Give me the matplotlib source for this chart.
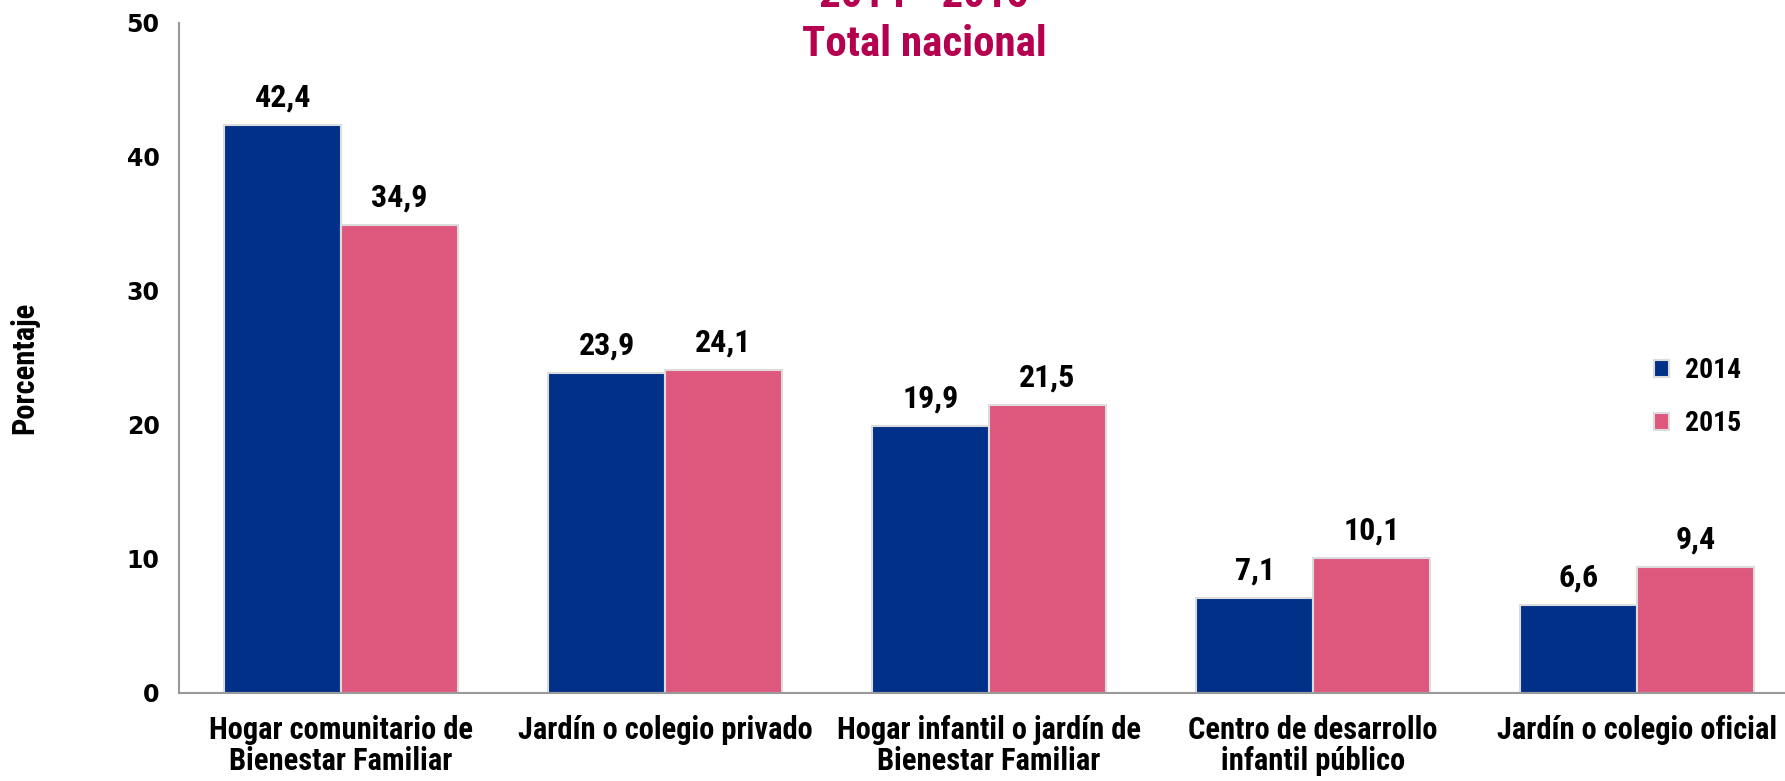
import matplotlib
matplotlib.use("Agg")
import matplotlib.pyplot as plt
from matplotlib import font_manager as fm
import numpy as np

categories = ["Hogar comunitario de\nBienestar Familiar",
              "Jardín o colegio privado",
              "Hogar infantil o jardín de\nBienestar Familiar",
              "Centro de desarrollo\ninfantil público",
              "Jardín o colegio oficial"]
series_names = ["2014", "2015"]
values_2014 = [42.4, 23.9, 19.9, 7.1, 6.6]
values_2015 = [34.9, 24.1, 21.5, 10.1, 9.4]
yticks = [0, 10, 20, 30, 40, 50]

names = {f.name for f in fm.fontManager.ttflist}
cond = "DejaVu Sans"
for cand in ["Liberation Sans Narrow", "Roboto Condensed", "Open Sans Condensed", "Roboto", "Liberation Sans"]:
    if cand in names:
        cond = cand
        break

blue = "#003087"
pink = "#de587e"
title_col = "#b4004e"

fig = plt.figure(figsize=(17.85, 7.81), dpi=100)
ax = fig.add_axes([179 / 1785, 1 - 693 / 781, 1620 / 1785, (693 - 23) / 781])

x = np.arange(len(categories))
w = 0.36
b1 = ax.bar(x - w / 2, values_2014, w, color=blue, edgecolor="#dcdcdc", linewidth=1.5, label=series_names[0])
b2 = ax.bar(x + w / 2, values_2015, w, color=pink, edgecolor="#dcdcdc", linewidth=1.5, label=series_names[1])

for bars, vals in [(b1, values_2014), (b2, values_2015)]:
    for r, v in zip(bars, vals):
        ax.annotate(f"{v:.1f}".replace(".", ","), (r.get_x() + r.get_width() / 2, v),
                    xytext=(0, 9), textcoords="offset points", ha="center", va="bottom",
                    fontsize=23, fontweight="bold", family=cond, color="black")

ax.set_xlim(-0.5, 4.5)
ax.set_ylim(0, 50)
ax.set_yticks(yticks)
ax.set_yticklabels([str(t) for t in yticks], fontsize=17, fontweight="bold", family="DejaVu Sans")
ax.set_xticks(x)
ax.set_xticklabels(categories, fontsize=22, fontweight="bold", family=cond, linespacing=1.05)
ax.tick_params(axis="both", length=0)
ax.tick_params(axis="y", pad=14)
ax.tick_params(axis="x", pad=16)
for s in ["top", "right"]:
    ax.spines[s].set_visible(False)
for s in ["left", "bottom"]:
    ax.spines[s].set_color("#9a9a9a")
    ax.spines[s].set_linewidth(1.5)

ax.set_ylabel("Porcentaje", fontsize=22, fontweight="bold", family=cond, labelpad=0)
ax.yaxis.set_label_coords(-140 / 1620, 0.485)

leg = ax.legend(loc="upper left", bbox_to_anchor=((1629 - 179) / 1620, (693 - 332) / 670),
                frameon=False, prop={"family": cond, "weight": "bold", "size": 20},
                handlelength=0.55, handleheight=0.55, handletextpad=0.55, labelspacing=0.95)

fig.text(924 / 1785, 1 - 7 / 781, "2014 - 2015", ha="center", va="baseline", fontsize=31,
         fontweight="bold", family=cond, color=title_col)
fig.text(924 / 1785, 1 - 44 / 781, "Total nacional", ha="center", va="center", fontsize=31,
         fontweight="bold", family=cond, color=title_col)

fig.savefig("out.png", dpi=100)
